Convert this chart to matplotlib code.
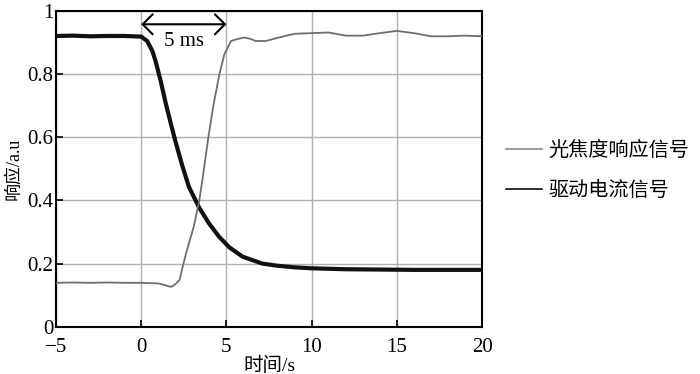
import matplotlib
matplotlib.use('Agg')
import matplotlib.pyplot as plt

plt.rcParams['font.family'] = ['Liberation Serif', 'Noto Sans CJK SC']
plt.rcParams['axes.unicode_minus'] = True

# 驱动电流信号 (black)
t_drive = [-5, -4, -3, -2, -1, -0.5, 0, 0.35, 0.65, 0.84, 1.14, 1.43, 1.73, 2.02, 2.41,
           2.8, 3.39, 3.98, 4.57, 5.16, 5.94, 7.1, 8, 9, 10, 12, 14, 16, 18, 20]
v_drive = [0.921, 0.922, 0.92, 0.921, 0.921, 0.92, 0.919, 0.905, 0.874, 0.842, 0.779,
           0.71, 0.645, 0.585, 0.51, 0.443, 0.378, 0.327, 0.285, 0.252, 0.222, 0.2,
           0.193, 0.188, 0.185, 0.182, 0.181, 0.18, 0.18, 0.18]

# 光焦度响应信号 (gray)
t_focus = [-5, -4, -3, -2, -1, 0, 1, 1.3, 1.75, 1.95, 2.24, 2.63, 3.08, 3.41, 3.67,
           3.94, 4.25, 4.59, 4.88, 5.27, 5.7, 6.04, 6.4, 6.72, 7.3, 8, 9, 10, 11, 12,
           13, 14, 15, 16, 17, 18, 19, 20]
v_focus = [0.139, 0.14, 0.139, 0.14, 0.139, 0.139, 0.137, 0.133, 0.126, 0.132, 0.147,
           0.232, 0.316, 0.40, 0.495, 0.60, 0.705, 0.80, 0.863, 0.905, 0.912, 0.916,
           0.912, 0.905, 0.905, 0.915, 0.928, 0.93, 0.932, 0.922, 0.922, 0.93, 0.937,
           0.93, 0.92, 0.92, 0.922, 0.92]

x_ticks = [-5, 0, 5, 10, 15, 20]
x_ticklabels = ['\u22125', '0', '5', '10', '15', '20']
y_ticks = [0, 0.2, 0.4, 0.6, 0.8, 1]
y_ticklabels = ['0', '0.2', '0.4', '0.6', '0.8', '1']

fig = plt.figure(figsize=(7, 3.74), dpi=100)
ax = fig.add_axes([0.08, 0.1265, 0.6086, 0.844])

ax.plot(t_drive, v_drive, color='#111111', lw=3.0, label='驱动电流信号', zorder=3)
ax.plot(t_focus, v_focus, color='#6e6e6e', lw=1.3, label='光焦度响应信号', zorder=4)

ax.set_xlim(-5, 20)
ax.set_ylim(0, 1)
ax.set_xticks(x_ticks)
ax.set_xticklabels(x_ticklabels)
ax.set_yticks(y_ticks)
ax.set_yticklabels(y_ticklabels)
ax.tick_params(direction='in', length=5, width=1.2, labelsize=15, colors='black')
ax.tick_params(axis='x', pad=8)
ax.tick_params(axis='y', pad=2)
ax.grid(True, color='#b0b0b0', lw=1.0)
for s in ax.spines.values():
    s.set_linewidth(1.5)

ax.set_xlabel('时间/s', fontsize=14, labelpad=0)
ax.set_ylabel('响应/a.u', fontsize=13, labelpad=3)

# 5 ms 标注
ax.annotate('', xy=(5, 0.958), xytext=(0, 0.958),
            arrowprops=dict(arrowstyle='<->, head_length=0.45, head_width=0.45',
                            color='black', lw=1.5, mutation_scale=16,
                            shrinkA=0, shrinkB=0))
ax.text(2.5, 0.905, '5 ms', ha='center', va='center', fontsize=15)

# 图例
h_drive, h_focus = ax.get_lines()
leg = fig.legend([h_focus, h_drive], ['光焦度响应信号', '驱动电流信号'],
                 loc='center left', bbox_to_anchor=(0.697, 0.545), frameon=False,
                 prop={'family': ['Noto Sans CJK SC'], 'size': 14.5},
                 handlelength=1.8, handletextpad=0.3, labelspacing=0.95)
leg.get_lines()[0].set_color('#888888')
for line in leg.get_lines():
    line.set_linewidth(1.2)

fig.savefig('out.png', dpi=100)
